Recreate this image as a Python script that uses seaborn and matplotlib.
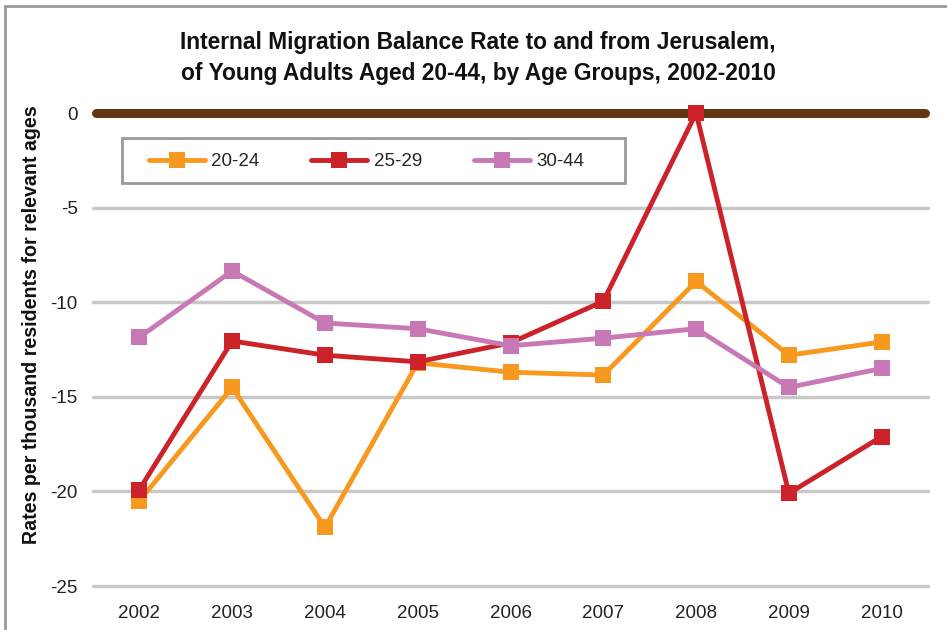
import numpy as np
import pandas as pd
import matplotlib
matplotlib.use('Agg')
import matplotlib.pyplot as plt
import seaborn as sns
from matplotlib.lines import Line2D
from matplotlib.patches import Rectangle

# Daten
years = ['2002', '2003', '2004', '2005', '2006', '2007', '2008', '2009', '2010']
age_20_24 = [-20.5, -14.5, -21.9, -13.2, -13.7, -13.85, -8.9, -12.8, -12.1]
age_25_29 = [-19.9, -12.05, -12.8, -13.15, -12.15, -9.95, 0.0, -20.1, -17.1]
age_30_44 = [-11.85, -8.35, -11.1, -11.4, -12.3, -11.9, -11.4, -14.5, -13.5]
groups = ['20-24', '25-29', '30-44']
y_ticks = [0, -5, -10, -15, -20, -25]

df = pd.DataFrame({'Jahr': years, '20-24': age_20_24, '25-29': age_25_29, '30-44': age_30_44})
df_long = df.melt(id_vars='Jahr', var_name='Gruppe', value_name='Rate')

colors = {'20-24': '#F7991E', '25-29': '#CC2229', '30-44': '#C878B4'}

sns.set_theme(style='white')
plt.rcParams['font.family'] = ['Liberation Sans', 'DejaVu Sans']

fig = plt.figure(figsize=(9.47, 6.3), dpi=100)
ax = fig.add_axes([0.0982, 0.0698, 0.8818, 0.7508])

# Gitterlinien
for t in y_ticks[1:]:
    ax.axhline(t, color='#C8C8C8', lw=2.5, zorder=0)

sns.lineplot(data=df_long, x='Jahr', y='Rate', hue='Gruppe', palette=colors,
             marker='s', markersize=11, markeredgewidth=0, linewidth=3.5,
             sort=False, legend=False, ax=ax, zorder=3)
for line in ax.lines:
    line.set_clip_on(False)

# Null-Linie
ax.plot([-0.47, len(years) - 0.53], [0, 0], color='#623613', lw=6.5,
        solid_capstyle='round', zorder=2, clip_on=False)

ax.set_xlim(-0.5, len(years) - 0.5)
ax.set_ylim(-25, 0)
ax.set_yticks(y_ticks)
ax.set_yticklabels([str(t) for t in y_ticks])
ax.tick_params(axis='both', length=0, labelsize=13.5, colors='#222222')
ax.tick_params(axis='x', pad=14)
ax.tick_params(axis='y', pad=11)
for s in ax.spines.values():
    s.set_visible(False)
ax.set_xlabel('')
ax.set_ylabel('Rates per thousand residents for relevant ages', fontsize=14.1,
              fontweight='bold', color='#111111')
ax.yaxis.set_label_coords(-0.0625, 0.552)

# Legende mit eigenem Rahmen
ax.add_patch(Rectangle((0.0347, 0.852), 0.6024, 0.095, transform=ax.transAxes,
                       facecolor='white', edgecolor='#999999', lw=2, zorder=4,
                       clip_on=False))
handles = [Line2D([0], [0], color=colors[g], lw=3.5, marker='s', markersize=11,
                  markeredgewidth=0, solid_capstyle='round') for g in groups]
leg = ax.legend(handles, groups, ncol=3, loc='center left', bbox_to_anchor=(0.0665, 0.897),
                frameon=False, fontsize=13.5, handlelength=3.0, columnspacing=2.75,
                borderpad=0, borderaxespad=0, handletextpad=0.35)
leg.set_zorder(5)

fig.text(0.505, 0.908, 'Internal Migration Balance Rate to and from Jerusalem,\n'
         'of Young Adults Aged 20-44, by Age Groups, 2002-2010',
         ha='center', va='center', fontsize=16.4, fontweight='bold', color='#111111',
         linespacing=1.4)

# Rahmen oben und links
fig.add_artist(plt.Line2D([0.0053, 1.0], [0.9905, 0.9905], transform=fig.transFigure,
                          color='#999999', lw=2))
fig.add_artist(plt.Line2D([0.0053, 0.0053], [0.0, 0.9905], transform=fig.transFigure,
                          color='#999999', lw=2))

fig.savefig('out.png', dpi=100)
